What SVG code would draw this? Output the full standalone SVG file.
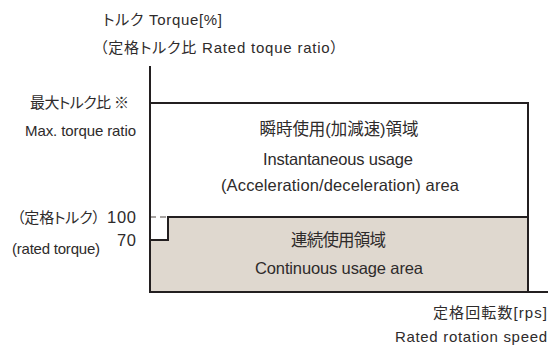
<svg xmlns="http://www.w3.org/2000/svg" width="548" height="349" viewBox="0 0 548 349">
  <style>
    .lbl { font-family: "Liberation Sans", "Noto Sans CJK JP", sans-serif; font-size: 15px; fill: #2e2b2b; font-feature-settings: "palt"; }
    .big { font-size: 16.5px; }
    .num { font-size: 16.5px; }
    .mid { text-anchor: middle; }
    .end { text-anchor: end; }
    .edge { fill: none; stroke: #231f20; stroke-width: 2; stroke-linecap: square; }
    .dash { fill: none; stroke: #8a8583; stroke-width: 1.5; stroke-dasharray: 6 4; }
  </style>
  <rect width="548" height="349" fill="#ffffff"/>

  <!-- Continuous usage region (shaded) -->
  <g id="continuous-area">
    <polygon points="149,240 168,240 168,217 528,217 528,292 149,292" fill="#dfd8cf"/>
    <text class="lbl big mid" x="338.5" y="246" textLength="95">連続使用領域</text>
    <text class="lbl big mid" x="339" y="274" textLength="168">Continuous usage area</text>
  </g>

  <!-- Instantaneous usage region -->
  <g id="instant-area">
    <text class="lbl big mid" x="339" y="135" textLength="159">瞬時使用(加減速)領域</text>
    <text class="lbl big mid" x="338" y="165" textLength="150">Instantaneous usage</text>
    <text class="lbl big mid" x="340" y="191" textLength="238">(Acceleration/deceleration) area</text>
  </g>

  <!-- Region boundaries and axes -->
  <g id="connectors">
    <path class="dash" d="M150,217 H168"/>
    <path class="edge" d="M150,103 H528 V292"/>
    <path class="edge" d="M150,240 H168 V217 H528"/>
    <path class="edge" d="M150,67 V292 H547"/>
  </g>

  <!-- Axis titles -->
  <g id="y-axis-title">
    <text class="lbl" x="103" y="25" textLength="119">トルク Torque[%]</text>
    <text class="lbl" x="100" y="53" textLength="238">（定格トルク比 Rated toque ratio）</text>
  </g>
  <g id="x-axis-title">
    <text class="lbl end" x="547" y="318" textLength="114">定格回転数[rps]</text>
    <text class="lbl end" x="547" y="342" textLength="152">Rated rotation speed</text>
  </g>

  <!-- Y-axis level labels -->
  <g id="max-torque-label">
    <text class="lbl" x="30" y="108" textLength="99">最大トルク比 ※</text>
    <text class="lbl" x="25" y="136" textLength="111">Max. torque ratio</text>
  </g>
  <g id="rated-torque-label">
    <text class="lbl" x="17" y="223" textLength="83">（定格トルク）</text>
    <text class="lbl num" x="107" y="223" textLength="29">100</text>
    <text class="lbl num" x="117" y="246" textLength="19">70</text>
    <text class="lbl" x="12" y="254" textLength="88">(rated torque)</text>
  </g>
</svg>
